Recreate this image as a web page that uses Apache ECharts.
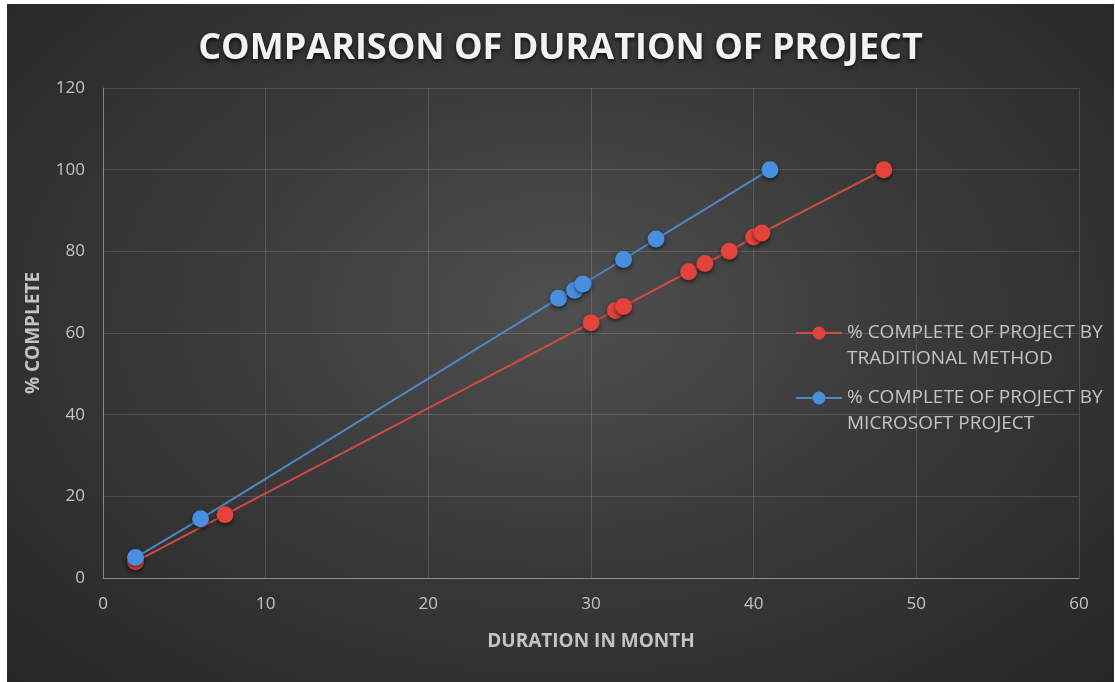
<!DOCTYPE html>
<html>
<head>
<meta charset="utf-8">
<script src="https://cdn.jsdelivr.net/npm/echarts@6/dist/echarts.min.js"></script>
<style>
  html, body { margin: 0; padding: 0; background: #fff; }
  #chart {
    position: absolute; left: 7px; top: 4px; width: 1107px; height: 678px;
    background: radial-gradient(ellipse at 50% 45%, #4f4f4f 0%, #3a3a3a 45%, #262626 100%);
  }
</style>
</head>
<body>
<div id="chart"></div>
<script>
// duration (months) vs % complete
const traditionalX = [2, 7.5, 30, 31.5, 32, 36, 37, 38.5, 40, 40.5, 48];
const traditionalY = [4, 15.5, 62.5, 65.5, 66.5, 75, 77, 80, 83.5, 84.5, 100];
const msProjectX = [2, 6, 28, 29, 29.5, 32, 34, 41];
const msProjectY = [5, 14.5, 68.5, 70.5, 72, 78, 83, 100];
const seriesNames = ['% COMPLETE OF PROJECT BY TRADITIONAL METHOD', '% COMPLETE OF PROJECT BY MICROSOFT PROJECT'];

const pairs = (xs, ys) => xs.map((x, i) => [x, ys[i]]);

const chart = echarts.init(document.getElementById('chart'));

const labelColor = '#c4c4c4';
const font = '"Open Sans", "Liberation Sans", sans-serif';

const markerShadow = {
  shadowBlur: 4, shadowColor: 'rgba(0,0,0,0.6)', shadowOffsetY: 2
};

chart.setOption({
  title: {
    text: 'COMPARISON OF DURATION OF PROJECT',
    left: 'center', top: 22,
    textStyle: {
      color: '#f2f2f2', fontSize: 36, fontWeight: 'bold', fontFamily: font,
      textShadowColor: 'rgba(0,0,0,0.8)', textShadowBlur: 4, textShadowOffsetY: 2
    }
  },
  grid: { left: 96, right: 35, top: 84, bottom: 104 },
  legend: {
    orient: 'vertical', left: 783, top: 285, itemGap: -13,
    itemWidth: 46, itemHeight: 16,
    data: seriesNames,
    // blank first line keeps the marker level with the first text line
    formatter: name => '\n' + name.replace(' BY ', ' BY\n'),
    textStyle: { color: labelColor, fontSize: 19, fontFamily: font, lineHeight: 26 }
  },
  xAxis: {
    type: 'value', min: 0, max: 60, interval: 10,
    name: 'DURATION IN MONTH', nameLocation: 'middle', nameGap: 54,
    nameTextStyle: { color: labelColor, fontSize: 19, fontWeight: 'bold', fontFamily: font },
    axisLine: { show: true, lineStyle: { color: '#8c8c8c' } },
    axisTick: { show: false },
    axisLabel: { color: labelColor, fontSize: 17, margin: 18, fontFamily: font },
    splitLine: { show: true, lineStyle: { color: 'rgba(255,255,255,0.14)' } }
  },
  yAxis: {
    type: 'value', min: 0, max: 120, interval: 20,
    name: '% COMPLETE', nameLocation: 'middle', nameGap: 60,
    nameTextStyle: { color: labelColor, fontSize: 19, fontWeight: 'bold', fontFamily: font },
    axisLine: { show: true, lineStyle: { color: 'rgba(255,255,255,0.3)' } },
    axisTick: { show: false },
    axisLabel: { color: labelColor, fontSize: 17, margin: 18, fontFamily: font },
    splitLine: { show: true, lineStyle: { color: 'rgba(255,255,255,0.14)' } }
  },
  series: [
    {
      name: seriesNames[0], type: 'line', data: pairs(traditionalX, traditionalY),
      symbol: 'circle', symbolSize: 17,
      lineStyle: { color: '#d24a44', width: 2 },
      itemStyle: Object.assign({ color: '#e2443c' }, markerShadow)
    },
    {
      name: seriesNames[1], type: 'line', data: pairs(msProjectX, msProjectY),
      symbol: 'circle', symbolSize: 17,
      lineStyle: { color: '#4f86c8', width: 2 },
      itemStyle: Object.assign({ color: '#4a8ee0' }, markerShadow)
    }
  ]
});
</script>
</body>
</html>
